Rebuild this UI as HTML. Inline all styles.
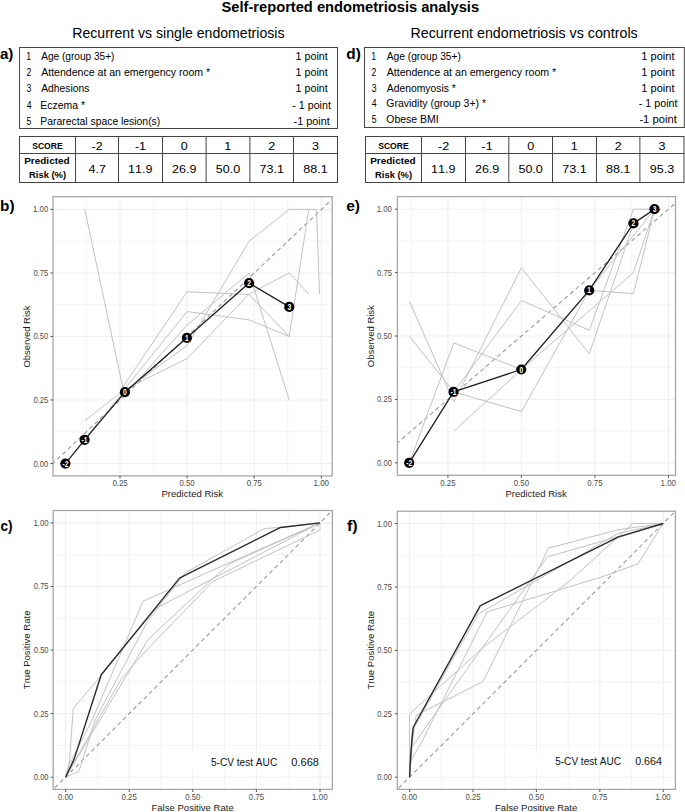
<!DOCTYPE html>
<html><head><meta charset="utf-8"><title>Self-reported endometriosis analysis</title>
<style>
html,body{margin:0;padding:0;background:#fff;}
body{width:685px;height:812px;overflow:hidden;}
svg{display:block;}
svg text{font-family:"Liberation Sans",sans-serif;font-kerning:none;}
</style></head><body>
<svg width="685" height="812" viewBox="0 0 685 812">
<rect width="685" height="812" fill="#fff"/>
<text x="221.58" y="11.7" font-size="15.41" font-weight="bold" fill="#000" textLength="257.52" lengthAdjust="spacingAndGlyphs">Self-reported endometriosis analysis</text>
<text x="72.24" y="37.7" font-size="14.24" fill="#000" textLength="212.27" lengthAdjust="spacingAndGlyphs">Recurrent vs single endometriosis</text>
<text x="410.53" y="37.7" font-size="14.24" fill="#000" textLength="227.18" lengthAdjust="spacingAndGlyphs">Recurrent endometriosis vs controls</text>
<text x="-0.14" y="58.5" font-size="14.2" font-weight="bold" fill="#000" textLength="13.5" lengthAdjust="spacingAndGlyphs">a)</text>
<text x="346.37" y="58.7" font-size="14.2" font-weight="bold" fill="#000" textLength="14.49" lengthAdjust="spacingAndGlyphs">d)</text>
<text x="0.09" y="210.8" font-size="15" font-weight="bold" fill="#000" textLength="14.47" lengthAdjust="spacingAndGlyphs">b)</text>
<text x="346.19" y="210.8" font-size="15" font-weight="bold" fill="#000" textLength="13.89" lengthAdjust="spacingAndGlyphs">e)</text>
<text x="0.47" y="530.5" font-size="15" font-weight="bold" fill="#000" textLength="12.11" lengthAdjust="spacingAndGlyphs">c)</text>
<text x="346.92" y="530.6" font-size="15" font-weight="bold" fill="#000" textLength="10.78" lengthAdjust="spacingAndGlyphs">f)</text>
<rect x="19.5" y="47.5" width="318" height="81" fill="none" stroke="#454545" stroke-width="1"/>
<rect x="364.5" y="47.5" width="319.8" height="80" fill="none" stroke="#454545" stroke-width="1"/>
<text x="26.24" y="59.8" font-size="10.2" fill="#000" textLength="4.82" lengthAdjust="spacingAndGlyphs">1</text>
<text x="41.18" y="59.8" font-size="10.2" fill="#000" textLength="73.25" lengthAdjust="spacingAndGlyphs">Age (group 35+)</text>
<text x="295.48" y="59.8" font-size="10.2" fill="#000" textLength="32.3" lengthAdjust="spacingAndGlyphs">1 point</text>
<text x="26.46" y="76.1" font-size="10.2" fill="#000" textLength="4.82" lengthAdjust="spacingAndGlyphs">2</text>
<text x="41.18" y="76.1" font-size="10.2" fill="#000" textLength="168.99" lengthAdjust="spacingAndGlyphs">Attendence at an emergency room *</text>
<text x="295.48" y="76.1" font-size="10.2" fill="#000" textLength="32.3" lengthAdjust="spacingAndGlyphs">1 point</text>
<text x="26.57" y="92.4" font-size="10.2" fill="#000" textLength="4.82" lengthAdjust="spacingAndGlyphs">3</text>
<text x="41.18" y="92.4" font-size="10.2" fill="#000" textLength="48.19" lengthAdjust="spacingAndGlyphs">Adhesions</text>
<text x="295.48" y="92.4" font-size="10.2" fill="#000" textLength="32.3" lengthAdjust="spacingAndGlyphs">1 point</text>
<text x="26.7" y="108.7" font-size="10.2" fill="#000" textLength="4.82" lengthAdjust="spacingAndGlyphs">4</text>
<text x="40.34" y="108.7" font-size="10.2" fill="#000" textLength="44.62" lengthAdjust="spacingAndGlyphs">Eczema *</text>
<text x="292.33" y="108.7" font-size="10.2" fill="#000" textLength="38.55" lengthAdjust="spacingAndGlyphs">- 1 point</text>
<text x="26.55" y="125" font-size="10.2" fill="#000" textLength="4.82" lengthAdjust="spacingAndGlyphs">5</text>
<text x="40.35" y="125" font-size="10.2" fill="#000" textLength="119.89" lengthAdjust="spacingAndGlyphs">Pararectal space lesion(s)</text>
<text x="293.52" y="125" font-size="10.2" fill="#000" textLength="36.26" lengthAdjust="spacingAndGlyphs">-1 point</text>
<text x="371.34" y="59.8" font-size="10.2" fill="#000" textLength="4.82" lengthAdjust="spacingAndGlyphs">1</text>
<text x="386.78" y="59.8" font-size="10.2" fill="#000" textLength="74.15" lengthAdjust="spacingAndGlyphs">Age (group 35+)</text>
<text x="641.36" y="59.8" font-size="10.2" fill="#000" textLength="33.12" lengthAdjust="spacingAndGlyphs">1 point</text>
<text x="371.56" y="75.65" font-size="10.2" fill="#000" textLength="4.82" lengthAdjust="spacingAndGlyphs">2</text>
<text x="386.78" y="75.65" font-size="10.2" fill="#000" textLength="169.39" lengthAdjust="spacingAndGlyphs">Attendence at an emergency room *</text>
<text x="641.36" y="75.65" font-size="10.2" fill="#000" textLength="33.12" lengthAdjust="spacingAndGlyphs">1 point</text>
<text x="371.67" y="91.5" font-size="10.2" fill="#000" textLength="4.82" lengthAdjust="spacingAndGlyphs">3</text>
<text x="386.78" y="91.5" font-size="10.2" fill="#000" textLength="68.98" lengthAdjust="spacingAndGlyphs">Adenomyosis *</text>
<text x="641.36" y="91.5" font-size="10.2" fill="#000" textLength="33.12" lengthAdjust="spacingAndGlyphs">1 point</text>
<text x="371.8" y="107.35" font-size="10.2" fill="#000" textLength="4.82" lengthAdjust="spacingAndGlyphs">4</text>
<text x="386.27" y="107.35" font-size="10.2" fill="#000" textLength="99.69" lengthAdjust="spacingAndGlyphs">Gravidity (group 3+) *</text>
<text x="638.82" y="107.35" font-size="10.2" fill="#000" textLength="38.76" lengthAdjust="spacingAndGlyphs">- 1 point</text>
<text x="371.65" y="123.2" font-size="10.2" fill="#000" textLength="4.82" lengthAdjust="spacingAndGlyphs">5</text>
<text x="386.3" y="123.2" font-size="10.2" fill="#000" textLength="52.36" lengthAdjust="spacingAndGlyphs">Obese BMI</text>
<text x="639.4" y="123.2" font-size="10.2" fill="#000" textLength="37.38" lengthAdjust="spacingAndGlyphs">-1 point</text>
<rect x="19.5" y="136.5" width="318" height="46" fill="none" stroke="#454545" stroke-width="1"/>
<line x1="19.5" y1="153.5" x2="337.5" y2="153.5" stroke="#454545" stroke-width="1"/>
<line x1="75.5" y1="136.5" x2="75.5" y2="182.5" stroke="#454545" stroke-width="1"/>
<line x1="118.5" y1="136.5" x2="118.5" y2="182.5" stroke="#454545" stroke-width="1"/>
<line x1="162.5" y1="136.5" x2="162.5" y2="182.5" stroke="#454545" stroke-width="1"/>
<line x1="206.1" y1="136.5" x2="206.1" y2="182.5" stroke="#454545" stroke-width="1"/>
<line x1="249.9" y1="136.5" x2="249.9" y2="182.5" stroke="#454545" stroke-width="1"/>
<line x1="293.5" y1="136.5" x2="293.5" y2="182.5" stroke="#454545" stroke-width="1"/>
<text x="32.15" y="148.9" font-size="9.45" font-weight="bold" fill="#000" textLength="30.58" lengthAdjust="spacingAndGlyphs">SCORE</text>
<text x="24.23" y="164.3" font-size="9.45" font-weight="bold" fill="#000" textLength="45.42" lengthAdjust="spacingAndGlyphs">Predicted</text>
<text x="29.07" y="178.4" font-size="9.45" font-weight="bold" fill="#000" textLength="36.99" lengthAdjust="spacingAndGlyphs">Risk (%)</text>
<text x="91.47" y="149.8" font-size="10.89" fill="#000" textLength="11.14" lengthAdjust="spacingAndGlyphs">-2</text>
<text x="88.46" y="172.8" font-size="10.89" fill="#000" textLength="17.42" lengthAdjust="spacingAndGlyphs">4.7</text>
<text x="134.96" y="149.8" font-size="10.89" fill="#000" textLength="11.14" lengthAdjust="spacingAndGlyphs">-1</text>
<text x="128.13" y="172.8" font-size="10.89" fill="#000" textLength="24.38" lengthAdjust="spacingAndGlyphs">11.9</text>
<text x="180.82" y="149.8" font-size="10.89" fill="#000" textLength="6.97" lengthAdjust="spacingAndGlyphs">0</text>
<text x="172.09" y="172.8" font-size="10.89" fill="#000" textLength="24.38" lengthAdjust="spacingAndGlyphs">26.9</text>
<text x="224.35" y="149.8" font-size="10.89" fill="#000" textLength="6.97" lengthAdjust="spacingAndGlyphs">1</text>
<text x="215.8" y="172.8" font-size="10.89" fill="#000" textLength="24.38" lengthAdjust="spacingAndGlyphs">50.0</text>
<text x="268.22" y="149.8" font-size="10.89" fill="#000" textLength="6.97" lengthAdjust="spacingAndGlyphs">2</text>
<text x="259.49" y="172.8" font-size="10.89" fill="#000" textLength="24.38" lengthAdjust="spacingAndGlyphs">73.1</text>
<text x="312.05" y="149.8" font-size="10.89" fill="#000" textLength="6.97" lengthAdjust="spacingAndGlyphs">3</text>
<text x="303.34" y="172.8" font-size="10.89" fill="#000" textLength="24.38" lengthAdjust="spacingAndGlyphs">88.1</text>
<rect x="365.5" y="136.5" width="318.5" height="46" fill="none" stroke="#454545" stroke-width="1"/>
<line x1="365.5" y1="153.5" x2="684" y2="153.5" stroke="#454545" stroke-width="1"/>
<line x1="421.5" y1="136.5" x2="421.5" y2="182.5" stroke="#454545" stroke-width="1"/>
<line x1="465.5" y1="136.5" x2="465.5" y2="182.5" stroke="#454545" stroke-width="1"/>
<line x1="508.8" y1="136.5" x2="508.8" y2="182.5" stroke="#454545" stroke-width="1"/>
<line x1="552.5" y1="136.5" x2="552.5" y2="182.5" stroke="#454545" stroke-width="1"/>
<line x1="596.5" y1="136.5" x2="596.5" y2="182.5" stroke="#454545" stroke-width="1"/>
<line x1="639.9" y1="136.5" x2="639.9" y2="182.5" stroke="#454545" stroke-width="1"/>
<text x="378.15" y="148.9" font-size="9.45" font-weight="bold" fill="#000" textLength="30.58" lengthAdjust="spacingAndGlyphs">SCORE</text>
<text x="370.23" y="164.3" font-size="9.45" font-weight="bold" fill="#000" textLength="45.42" lengthAdjust="spacingAndGlyphs">Predicted</text>
<text x="375.07" y="178.4" font-size="9.45" font-weight="bold" fill="#000" textLength="36.99" lengthAdjust="spacingAndGlyphs">Risk (%)</text>
<text x="437.97" y="149.8" font-size="10.89" fill="#000" textLength="11.14" lengthAdjust="spacingAndGlyphs">-2</text>
<text x="431.13" y="172.8" font-size="10.89" fill="#000" textLength="24.38" lengthAdjust="spacingAndGlyphs">11.9</text>
<text x="481.61" y="149.8" font-size="10.89" fill="#000" textLength="11.14" lengthAdjust="spacingAndGlyphs">-1</text>
<text x="474.94" y="172.8" font-size="10.89" fill="#000" textLength="24.38" lengthAdjust="spacingAndGlyphs">26.9</text>
<text x="527.17" y="149.8" font-size="10.89" fill="#000" textLength="6.97" lengthAdjust="spacingAndGlyphs">0</text>
<text x="518.45" y="172.8" font-size="10.89" fill="#000" textLength="24.38" lengthAdjust="spacingAndGlyphs">50.0</text>
<text x="570.85" y="149.8" font-size="10.89" fill="#000" textLength="6.97" lengthAdjust="spacingAndGlyphs">1</text>
<text x="562.29" y="172.8" font-size="10.89" fill="#000" textLength="24.38" lengthAdjust="spacingAndGlyphs">73.1</text>
<text x="614.72" y="149.8" font-size="10.89" fill="#000" textLength="6.97" lengthAdjust="spacingAndGlyphs">2</text>
<text x="606.04" y="172.8" font-size="10.89" fill="#000" textLength="24.38" lengthAdjust="spacingAndGlyphs">88.1</text>
<text x="658.5" y="149.8" font-size="10.89" fill="#000" textLength="6.97" lengthAdjust="spacingAndGlyphs">3</text>
<text x="649.74" y="172.8" font-size="10.89" fill="#000" textLength="24.38" lengthAdjust="spacingAndGlyphs">95.3</text>
<line x1="86.44" y1="196.7" x2="86.44" y2="475.9" stroke="#efefef" stroke-width="0.7"/>
<line x1="153.57" y1="196.7" x2="153.57" y2="475.9" stroke="#efefef" stroke-width="0.7"/>
<line x1="220.7" y1="196.7" x2="220.7" y2="475.9" stroke="#efefef" stroke-width="0.7"/>
<line x1="287.83" y1="196.7" x2="287.83" y2="475.9" stroke="#efefef" stroke-width="0.7"/>
<line x1="53" y1="431.74" x2="332.2" y2="431.74" stroke="#efefef" stroke-width="0.7"/>
<line x1="53" y1="368.21" x2="332.2" y2="368.21" stroke="#efefef" stroke-width="0.7"/>
<line x1="53" y1="304.69" x2="332.2" y2="304.69" stroke="#efefef" stroke-width="0.7"/>
<line x1="53" y1="241.16" x2="332.2" y2="241.16" stroke="#efefef" stroke-width="0.7"/>
<line x1="120" y1="196.7" x2="120" y2="475.9" stroke="#efefef" stroke-width="1.1"/>
<line x1="187.13" y1="196.7" x2="187.13" y2="475.9" stroke="#efefef" stroke-width="1.1"/>
<line x1="254.27" y1="196.7" x2="254.27" y2="475.9" stroke="#efefef" stroke-width="1.1"/>
<line x1="321.4" y1="196.7" x2="321.4" y2="475.9" stroke="#efefef" stroke-width="1.1"/>
<line x1="53" y1="463.5" x2="332.2" y2="463.5" stroke="#efefef" stroke-width="1.1"/>
<line x1="53" y1="399.98" x2="332.2" y2="399.98" stroke="#efefef" stroke-width="1.1"/>
<line x1="53" y1="336.45" x2="332.2" y2="336.45" stroke="#efefef" stroke-width="1.1"/>
<line x1="53" y1="272.93" x2="332.2" y2="272.93" stroke="#efefef" stroke-width="1.1"/>
<line x1="53" y1="209.4" x2="332.2" y2="209.4" stroke="#efefef" stroke-width="1.1"/>
<line x1="53" y1="463.37" x2="331.34" y2="200" stroke="#999999" stroke-width="1.1" stroke-dasharray="4.2,3.2" stroke-dashoffset="1.71"/>
<polyline points="84.83,209.4 122.69,387.27 187.13,291.73 249.17,294.52 289.18,336.45" fill="none" stroke="#c2c2c2" stroke-width="1" stroke-linejoin="round"/>
<polyline points="84.83,420.81 124.03,389.81 187.13,311.55 249.17,319.93 289.18,336.45 308.78,209.4" fill="none" stroke="#c2c2c2" stroke-width="1" stroke-linejoin="round"/>
<polyline points="86.44,436.82 124.03,391.08 187.13,345.6 249.17,241.16 289.18,209.4 316.57,209.4 319.52,294.02" fill="none" stroke="#c2c2c2" stroke-width="1" stroke-linejoin="round"/>
<polyline points="124.84,394.89 187.13,325.02 249.17,272.93 289.18,399.98" fill="none" stroke="#c2c2c2" stroke-width="1" stroke-linejoin="round"/>
<polyline points="124.03,389.81 187.13,358.56 249.17,294.02 289.18,272.93 308.78,294.02" fill="none" stroke="#c2c2c2" stroke-width="1" stroke-linejoin="round"/>
<polyline points="65.4,463.6 84.6,439.8 124.9,392.15 186.9,337.8 249.1,283.05 289.3,306.9" fill="none" stroke="#1e1e1e" stroke-width="1.3" stroke-linejoin="round"/>
<circle cx="65.4" cy="463.6" r="5.1" fill="#000"/>
<text x="62.42" y="466.6" font-size="8.38" font-weight="bold" fill="#fff" textLength="5.96" lengthAdjust="spacingAndGlyphs">-2</text>
<circle cx="84.6" cy="439.8" r="5.1" fill="#000"/>
<text x="81.58" y="442.8" font-size="8.38" font-weight="bold" fill="#fff" textLength="5.96" lengthAdjust="spacingAndGlyphs">-1</text>
<circle cx="124.9" cy="392.15" r="5.1" fill="#000"/>
<text x="123.04" y="395.15" font-size="8.38" font-weight="bold" fill="#fff" textLength="3.73" lengthAdjust="spacingAndGlyphs">0</text>
<circle cx="186.9" cy="337.8" r="5.1" fill="#000"/>
<text x="184.92" y="340.8" font-size="8.38" font-weight="bold" fill="#fff" textLength="3.73" lengthAdjust="spacingAndGlyphs">1</text>
<circle cx="249.1" cy="283.05" r="5.1" fill="#000"/>
<text x="247.25" y="286.05" font-size="8.38" font-weight="bold" fill="#fff" textLength="3.73" lengthAdjust="spacingAndGlyphs">2</text>
<circle cx="289.3" cy="306.9" r="5.1" fill="#000"/>
<text x="287.48" y="309.9" font-size="8.38" font-weight="bold" fill="#fff" textLength="3.73" lengthAdjust="spacingAndGlyphs">3</text>
<rect x="53" y="196.7" width="279.2" height="279.2" fill="none" stroke="#a6a6a6" stroke-width="1.3"/>
<line x1="120" y1="475.9" x2="120" y2="478.5" stroke="#555" stroke-width="1"/>
<text x="112.4" y="486.1" font-size="8.38" fill="#4d4d4d" textLength="15.23" lengthAdjust="spacingAndGlyphs">0.25</text>
<line x1="187.13" y1="475.9" x2="187.13" y2="478.5" stroke="#555" stroke-width="1"/>
<text x="179.53" y="486.1" font-size="8.38" fill="#4d4d4d" textLength="15.21" lengthAdjust="spacingAndGlyphs">0.50</text>
<line x1="254.27" y1="475.9" x2="254.27" y2="478.5" stroke="#555" stroke-width="1"/>
<text x="246.66" y="486.1" font-size="8.38" fill="#4d4d4d" textLength="15.23" lengthAdjust="spacingAndGlyphs">0.75</text>
<line x1="321.4" y1="475.9" x2="321.4" y2="478.5" stroke="#555" stroke-width="1"/>
<text x="313.49" y="486.1" font-size="8.38" fill="#4d4d4d" textLength="15.52" lengthAdjust="spacingAndGlyphs">1.00</text>
<line x1="50.4" y1="463.5" x2="53" y2="463.5" stroke="#555" stroke-width="1"/>
<text x="33.4" y="466.5" font-size="8.38" fill="#4d4d4d" textLength="14.79" lengthAdjust="spacingAndGlyphs">0.00</text>
<line x1="50.4" y1="399.98" x2="53" y2="399.98" stroke="#555" stroke-width="1"/>
<text x="33.4" y="402.98" font-size="8.38" fill="#4d4d4d" textLength="14.82" lengthAdjust="spacingAndGlyphs">0.25</text>
<line x1="50.4" y1="336.45" x2="53" y2="336.45" stroke="#555" stroke-width="1"/>
<text x="33.4" y="339.45" font-size="8.38" fill="#4d4d4d" textLength="14.79" lengthAdjust="spacingAndGlyphs">0.50</text>
<line x1="50.4" y1="272.93" x2="53" y2="272.93" stroke="#555" stroke-width="1"/>
<text x="33.4" y="275.93" font-size="8.38" fill="#4d4d4d" textLength="14.82" lengthAdjust="spacingAndGlyphs">0.75</text>
<line x1="50.4" y1="209.4" x2="53" y2="209.4" stroke="#555" stroke-width="1"/>
<text x="33.11" y="212.4" font-size="8.38" fill="#4d4d4d" textLength="15.09" lengthAdjust="spacingAndGlyphs">1.00</text>
<text x="161.47" y="497.2" font-size="9.88" fill="#1a1a1a" textLength="61.47" lengthAdjust="spacingAndGlyphs">Predicted Risk</text>
<text transform="translate(29.8,336.3) rotate(-90)" x="-31.25" y="0" font-size="9.88" fill="#1a1a1a" textLength="62.03" lengthAdjust="spacingAndGlyphs">Observed Risk</text>
<line x1="411.15" y1="196.6" x2="411.15" y2="475.3" stroke="#efefef" stroke-width="0.7"/>
<line x1="484.65" y1="196.6" x2="484.65" y2="475.3" stroke="#efefef" stroke-width="0.7"/>
<line x1="558.15" y1="196.6" x2="558.15" y2="475.3" stroke="#efefef" stroke-width="0.7"/>
<line x1="631.65" y1="196.6" x2="631.65" y2="475.3" stroke="#efefef" stroke-width="0.7"/>
<line x1="397.4" y1="431.14" x2="675.5" y2="431.14" stroke="#efefef" stroke-width="0.7"/>
<line x1="397.4" y1="367.73" x2="675.5" y2="367.73" stroke="#efefef" stroke-width="0.7"/>
<line x1="397.4" y1="304.32" x2="675.5" y2="304.32" stroke="#efefef" stroke-width="0.7"/>
<line x1="397.4" y1="240.91" x2="675.5" y2="240.91" stroke="#efefef" stroke-width="0.7"/>
<line x1="447.9" y1="196.6" x2="447.9" y2="475.3" stroke="#efefef" stroke-width="1.1"/>
<line x1="521.4" y1="196.6" x2="521.4" y2="475.3" stroke="#efefef" stroke-width="1.1"/>
<line x1="594.9" y1="196.6" x2="594.9" y2="475.3" stroke="#efefef" stroke-width="1.1"/>
<line x1="668.4" y1="196.6" x2="668.4" y2="475.3" stroke="#efefef" stroke-width="1.1"/>
<line x1="397.4" y1="462.85" x2="675.5" y2="462.85" stroke="#efefef" stroke-width="1.1"/>
<line x1="397.4" y1="399.44" x2="675.5" y2="399.44" stroke="#efefef" stroke-width="1.1"/>
<line x1="397.4" y1="336.03" x2="675.5" y2="336.03" stroke="#efefef" stroke-width="1.1"/>
<line x1="397.4" y1="272.61" x2="675.5" y2="272.61" stroke="#efefef" stroke-width="1.1"/>
<line x1="397.4" y1="209.2" x2="675.5" y2="209.2" stroke="#efefef" stroke-width="1.1"/>
<line x1="397.3" y1="443.09" x2="675.75" y2="202.86" stroke="#999999" stroke-width="1.1" stroke-dasharray="4.2,3.2" stroke-dashoffset="1.14"/>
<polyline points="409.39,301.27 453.78,401.97 521.4,267.79 589.31,353.78 633.41,223.91 654.58,209.2" fill="none" stroke="#c2c2c2" stroke-width="1" stroke-linejoin="round"/>
<polyline points="409.39,336.28 453.78,391.83 521.4,300.51 589.31,330.19 633.41,209.2 661.05,209.2" fill="none" stroke="#c2c2c2" stroke-width="1" stroke-linejoin="round"/>
<polyline points="409.39,462.85 453.78,342.87 521.4,369.51 589.31,290.37 633.41,293.67 654.58,209.2" fill="none" stroke="#c2c2c2" stroke-width="1" stroke-linejoin="round"/>
<polyline points="453.78,431.4 521.4,369.51 633.41,272.61 654.58,209.2" fill="none" stroke="#c2c2c2" stroke-width="1" stroke-linejoin="round"/>
<polyline points="453.78,391.83 521.4,411.61 589.31,290.37 654.58,209.2" fill="none" stroke="#c2c2c2" stroke-width="1" stroke-linejoin="round"/>
<polyline points="409.2,462.85 453.55,391.9 521.3,369.5 589.2,290.4 633.45,223.4 654.5,209.2" fill="none" stroke="#1e1e1e" stroke-width="1.3" stroke-linejoin="round"/>
<circle cx="409.2" cy="462.85" r="5.1" fill="#000"/>
<text x="406.22" y="465.85" font-size="8.38" font-weight="bold" fill="#fff" textLength="5.96" lengthAdjust="spacingAndGlyphs">-2</text>
<circle cx="453.55" cy="391.9" r="5.1" fill="#000"/>
<text x="450.53" y="394.9" font-size="8.38" font-weight="bold" fill="#fff" textLength="5.96" lengthAdjust="spacingAndGlyphs">-1</text>
<circle cx="521.3" cy="369.5" r="5.1" fill="#000"/>
<text x="519.44" y="372.5" font-size="8.38" font-weight="bold" fill="#fff" textLength="3.73" lengthAdjust="spacingAndGlyphs">0</text>
<circle cx="589.2" cy="290.4" r="5.1" fill="#000"/>
<text x="587.22" y="293.4" font-size="8.38" font-weight="bold" fill="#fff" textLength="3.73" lengthAdjust="spacingAndGlyphs">1</text>
<circle cx="633.45" cy="223.4" r="5.1" fill="#000"/>
<text x="631.6" y="226.4" font-size="8.38" font-weight="bold" fill="#fff" textLength="3.73" lengthAdjust="spacingAndGlyphs">2</text>
<circle cx="654.5" cy="209.2" r="5.1" fill="#000"/>
<text x="652.68" y="212.2" font-size="8.38" font-weight="bold" fill="#fff" textLength="3.73" lengthAdjust="spacingAndGlyphs">3</text>
<rect x="397.4" y="196.6" width="278.1" height="278.7" fill="none" stroke="#a6a6a6" stroke-width="1.3"/>
<line x1="447.9" y1="475.3" x2="447.9" y2="477.9" stroke="#555" stroke-width="1"/>
<text x="440.29" y="485.6" font-size="8.38" fill="#4d4d4d" textLength="15.23" lengthAdjust="spacingAndGlyphs">0.25</text>
<line x1="521.4" y1="475.3" x2="521.4" y2="477.9" stroke="#555" stroke-width="1"/>
<text x="513.79" y="485.6" font-size="8.38" fill="#4d4d4d" textLength="15.21" lengthAdjust="spacingAndGlyphs">0.50</text>
<line x1="594.9" y1="475.3" x2="594.9" y2="477.9" stroke="#555" stroke-width="1"/>
<text x="587.29" y="485.6" font-size="8.38" fill="#4d4d4d" textLength="15.23" lengthAdjust="spacingAndGlyphs">0.75</text>
<line x1="668.4" y1="475.3" x2="668.4" y2="477.9" stroke="#555" stroke-width="1"/>
<text x="660.49" y="485.6" font-size="8.38" fill="#4d4d4d" textLength="15.52" lengthAdjust="spacingAndGlyphs">1.00</text>
<line x1="394.8" y1="462.85" x2="397.4" y2="462.85" stroke="#555" stroke-width="1"/>
<text x="377.1" y="465.85" font-size="8.38" fill="#4d4d4d" textLength="14.79" lengthAdjust="spacingAndGlyphs">0.00</text>
<line x1="394.8" y1="399.44" x2="397.4" y2="399.44" stroke="#555" stroke-width="1"/>
<text x="377.1" y="402.44" font-size="8.38" fill="#4d4d4d" textLength="14.82" lengthAdjust="spacingAndGlyphs">0.25</text>
<line x1="394.8" y1="336.03" x2="397.4" y2="336.03" stroke="#555" stroke-width="1"/>
<text x="377.1" y="339.03" font-size="8.38" fill="#4d4d4d" textLength="14.79" lengthAdjust="spacingAndGlyphs">0.50</text>
<line x1="394.8" y1="272.61" x2="397.4" y2="272.61" stroke="#555" stroke-width="1"/>
<text x="377.1" y="275.61" font-size="8.38" fill="#4d4d4d" textLength="14.82" lengthAdjust="spacingAndGlyphs">0.75</text>
<line x1="394.8" y1="209.2" x2="397.4" y2="209.2" stroke="#555" stroke-width="1"/>
<text x="376.81" y="212.2" font-size="8.38" fill="#4d4d4d" textLength="15.09" lengthAdjust="spacingAndGlyphs">1.00</text>
<text x="505.42" y="496.8" font-size="9.88" fill="#1a1a1a" textLength="61.27" lengthAdjust="spacingAndGlyphs">Predicted Risk</text>
<text transform="translate(374,335.95) rotate(-90)" x="-31.25" y="0" font-size="9.88" fill="#1a1a1a" textLength="62.03" lengthAdjust="spacingAndGlyphs">Observed Risk</text>
<line x1="97.4" y1="510.5" x2="97.4" y2="789.4" stroke="#efefef" stroke-width="0.7"/>
<line x1="161" y1="510.5" x2="161" y2="789.4" stroke="#efefef" stroke-width="0.7"/>
<line x1="224.6" y1="510.5" x2="224.6" y2="789.4" stroke="#efefef" stroke-width="0.7"/>
<line x1="288.2" y1="510.5" x2="288.2" y2="789.4" stroke="#efefef" stroke-width="0.7"/>
<line x1="53.2" y1="745.41" x2="332.4" y2="745.41" stroke="#efefef" stroke-width="0.7"/>
<line x1="53.2" y1="681.84" x2="332.4" y2="681.84" stroke="#efefef" stroke-width="0.7"/>
<line x1="53.2" y1="618.26" x2="332.4" y2="618.26" stroke="#efefef" stroke-width="0.7"/>
<line x1="53.2" y1="554.69" x2="332.4" y2="554.69" stroke="#efefef" stroke-width="0.7"/>
<line x1="65.6" y1="510.5" x2="65.6" y2="789.4" stroke="#efefef" stroke-width="1.1"/>
<line x1="129.2" y1="510.5" x2="129.2" y2="789.4" stroke="#efefef" stroke-width="1.1"/>
<line x1="192.8" y1="510.5" x2="192.8" y2="789.4" stroke="#efefef" stroke-width="1.1"/>
<line x1="256.4" y1="510.5" x2="256.4" y2="789.4" stroke="#efefef" stroke-width="1.1"/>
<line x1="320" y1="510.5" x2="320" y2="789.4" stroke="#efefef" stroke-width="1.1"/>
<line x1="53.2" y1="777.2" x2="332.4" y2="777.2" stroke="#efefef" stroke-width="1.1"/>
<line x1="53.2" y1="713.62" x2="332.4" y2="713.62" stroke="#efefef" stroke-width="1.1"/>
<line x1="53.2" y1="650.05" x2="332.4" y2="650.05" stroke="#efefef" stroke-width="1.1"/>
<line x1="53.2" y1="586.48" x2="332.4" y2="586.48" stroke="#efefef" stroke-width="1.1"/>
<line x1="53.2" y1="522.9" x2="332.4" y2="522.9" stroke="#efefef" stroke-width="1.1"/>
<line x1="53.19" y1="789.61" x2="332.72" y2="510.19" stroke="#999999" stroke-width="1.1" stroke-dasharray="4.2,3.2" stroke-dashoffset="5.06"/>
<polyline points="65.6,777.2 69.42,762.7 73.23,708.54 99.18,677.77 155.91,608.34 320,522.9" fill="none" stroke="#c2c2c2" stroke-width="1" stroke-linejoin="round"/>
<polyline points="65.6,777.2 69.42,764.49 92.06,719.98 143.19,601.22 240.12,557.99 320,522.9" fill="none" stroke="#c2c2c2" stroke-width="1" stroke-linejoin="round"/>
<polyline points="65.6,777.2 79.08,771.1 95.11,719.98 148.03,620.3 185.42,572.74 264.54,528.49 280.57,527.48 320,522.9" fill="none" stroke="#c2c2c2" stroke-width="1" stroke-linejoin="round"/>
<polyline points="65.6,777.2 148.03,639.62 211.88,579.61 230.2,563.59 320,522.9" fill="none" stroke="#c2c2c2" stroke-width="1" stroke-linejoin="round"/>
<polyline points="65.6,777.2 120.55,680.06 141.92,655.14 212.9,581.39 320,530.02 320,522.9" fill="none" stroke="#c2c2c2" stroke-width="1" stroke-linejoin="round"/>
<polyline points="65.6,777.2 74.25,758.89 101.22,674.72 179.83,577.83 280.57,527.48 320,522.9" fill="none" stroke="#2a2a2a" stroke-width="1.4" stroke-linejoin="round"/>
<rect x="191.5" y="753.8" width="131" height="16.2" fill="#fff"/>
<text x="210.9" y="766" font-size="11.05" fill="#111" textLength="66.29" lengthAdjust="spacingAndGlyphs">5-CV test AUC</text>
<text x="291.37" y="765.7" font-size="10.47" fill="#111" textLength="27.61" lengthAdjust="spacingAndGlyphs">0.668</text>
<rect x="53.2" y="510.5" width="279.2" height="278.9" fill="none" stroke="#a6a6a6" stroke-width="1.3"/>
<line x1="65.6" y1="789.4" x2="65.6" y2="792" stroke="#555" stroke-width="1"/>
<text x="57.99" y="799.8" font-size="8.38" fill="#4d4d4d" textLength="15.21" lengthAdjust="spacingAndGlyphs">0.00</text>
<line x1="129.2" y1="789.4" x2="129.2" y2="792" stroke="#555" stroke-width="1"/>
<text x="121.59" y="799.8" font-size="8.38" fill="#4d4d4d" textLength="15.23" lengthAdjust="spacingAndGlyphs">0.25</text>
<line x1="192.8" y1="789.4" x2="192.8" y2="792" stroke="#555" stroke-width="1"/>
<text x="185.19" y="799.8" font-size="8.38" fill="#4d4d4d" textLength="15.21" lengthAdjust="spacingAndGlyphs">0.50</text>
<line x1="256.4" y1="789.4" x2="256.4" y2="792" stroke="#555" stroke-width="1"/>
<text x="248.79" y="799.8" font-size="8.38" fill="#4d4d4d" textLength="15.23" lengthAdjust="spacingAndGlyphs">0.75</text>
<line x1="320" y1="789.4" x2="320" y2="792" stroke="#555" stroke-width="1"/>
<text x="312.09" y="799.8" font-size="8.38" fill="#4d4d4d" textLength="15.52" lengthAdjust="spacingAndGlyphs">1.00</text>
<line x1="50.6" y1="777.2" x2="53.2" y2="777.2" stroke="#555" stroke-width="1"/>
<text x="33.8" y="780.2" font-size="8.38" fill="#4d4d4d" textLength="14.79" lengthAdjust="spacingAndGlyphs">0.00</text>
<line x1="50.6" y1="713.62" x2="53.2" y2="713.62" stroke="#555" stroke-width="1"/>
<text x="33.8" y="716.62" font-size="8.38" fill="#4d4d4d" textLength="14.82" lengthAdjust="spacingAndGlyphs">0.25</text>
<line x1="50.6" y1="650.05" x2="53.2" y2="650.05" stroke="#555" stroke-width="1"/>
<text x="33.8" y="653.05" font-size="8.38" fill="#4d4d4d" textLength="14.79" lengthAdjust="spacingAndGlyphs">0.50</text>
<line x1="50.6" y1="586.48" x2="53.2" y2="586.48" stroke="#555" stroke-width="1"/>
<text x="33.8" y="589.48" font-size="8.38" fill="#4d4d4d" textLength="14.82" lengthAdjust="spacingAndGlyphs">0.75</text>
<line x1="50.6" y1="522.9" x2="53.2" y2="522.9" stroke="#555" stroke-width="1"/>
<text x="33.51" y="525.9" font-size="8.38" fill="#4d4d4d" textLength="15.09" lengthAdjust="spacingAndGlyphs">1.00</text>
<text x="151.47" y="810.7" font-size="9.88" fill="#1a1a1a" textLength="82.31" lengthAdjust="spacingAndGlyphs">False Positive Rate</text>
<text transform="translate(29.9,649.95) rotate(-90)" x="-39.21" y="0" font-size="9.88" fill="#1a1a1a" textLength="78.64" lengthAdjust="spacingAndGlyphs">True Positive Rate</text>
<line x1="441.3" y1="511.2" x2="441.3" y2="789.4" stroke="#efefef" stroke-width="0.7"/>
<line x1="504.7" y1="511.2" x2="504.7" y2="789.4" stroke="#efefef" stroke-width="0.7"/>
<line x1="568.1" y1="511.2" x2="568.1" y2="789.4" stroke="#efefef" stroke-width="0.7"/>
<line x1="631.5" y1="511.2" x2="631.5" y2="789.4" stroke="#efefef" stroke-width="0.7"/>
<line x1="397.3" y1="745.49" x2="675.4" y2="745.49" stroke="#efefef" stroke-width="0.7"/>
<line x1="397.3" y1="682.06" x2="675.4" y2="682.06" stroke="#efefef" stroke-width="0.7"/>
<line x1="397.3" y1="618.64" x2="675.4" y2="618.64" stroke="#efefef" stroke-width="0.7"/>
<line x1="397.3" y1="555.21" x2="675.4" y2="555.21" stroke="#efefef" stroke-width="0.7"/>
<line x1="409.6" y1="511.2" x2="409.6" y2="789.4" stroke="#efefef" stroke-width="1.1"/>
<line x1="473" y1="511.2" x2="473" y2="789.4" stroke="#efefef" stroke-width="1.1"/>
<line x1="536.4" y1="511.2" x2="536.4" y2="789.4" stroke="#efefef" stroke-width="1.1"/>
<line x1="599.8" y1="511.2" x2="599.8" y2="789.4" stroke="#efefef" stroke-width="1.1"/>
<line x1="663.2" y1="511.2" x2="663.2" y2="789.4" stroke="#efefef" stroke-width="1.1"/>
<line x1="397.3" y1="777.2" x2="675.4" y2="777.2" stroke="#efefef" stroke-width="1.1"/>
<line x1="397.3" y1="713.78" x2="675.4" y2="713.78" stroke="#efefef" stroke-width="1.1"/>
<line x1="397.3" y1="650.35" x2="675.4" y2="650.35" stroke="#efefef" stroke-width="1.1"/>
<line x1="397.3" y1="586.93" x2="675.4" y2="586.93" stroke="#efefef" stroke-width="1.1"/>
<line x1="397.3" y1="523.5" x2="675.4" y2="523.5" stroke="#efefef" stroke-width="1.1"/>
<line x1="397.3" y1="789.5" x2="675.12" y2="511.58" stroke="#999999" stroke-width="1.1" stroke-dasharray="4.2,3.2" stroke-dashoffset="5.46"/>
<polyline points="409.6,777.2 410.87,751.83 416.19,715.3 483.14,681.56 548.57,548.11 618.82,529.59 663.2,523.5" fill="none" stroke="#c2c2c2" stroke-width="1" stroke-linejoin="round"/>
<polyline points="409.6,777.2 409.6,763.25 422.79,739.91 487.2,611.79 599.8,577.54 637.84,564.09 663.2,523.5" fill="none" stroke="#c2c2c2" stroke-width="1" stroke-linejoin="round"/>
<polyline points="409.6,777.2 409.6,714.03 483.14,647.56 569.62,581.09 632.77,523.5 663.2,523.5" fill="none" stroke="#c2c2c2" stroke-width="1" stroke-linejoin="round"/>
<polyline points="409.6,777.2 412.14,731.53 440.03,681.56 478.58,613.82 617.55,533.65 663.2,523.5" fill="none" stroke="#c2c2c2" stroke-width="1" stroke-linejoin="round"/>
<polyline points="409.6,777.2 412.14,746.76 444.85,700.08 547.3,556.99 663.2,523.5" fill="none" stroke="#c2c2c2" stroke-width="1" stroke-linejoin="round"/>
<polyline points="409.6,777.2 410.11,765.02 411.38,747.01 413.15,727.47 480.35,605.7 618.06,537.2 663.2,523.5" fill="none" stroke="#2a2a2a" stroke-width="1.4" stroke-linejoin="round"/>
<rect x="535.5" y="753.8" width="130" height="16.2" fill="#fff"/>
<text x="555.2" y="765.3" font-size="11.05" fill="#111" textLength="65.88" lengthAdjust="spacingAndGlyphs">5-CV test AUC</text>
<text x="635.18" y="765.3" font-size="10.47" fill="#111" textLength="26.73" lengthAdjust="spacingAndGlyphs">0.664</text>
<rect x="397.3" y="511.2" width="278.1" height="278.2" fill="none" stroke="#a6a6a6" stroke-width="1.3"/>
<line x1="409.6" y1="789.4" x2="409.6" y2="792" stroke="#555" stroke-width="1"/>
<text x="401.99" y="799.8" font-size="8.38" fill="#4d4d4d" textLength="15.21" lengthAdjust="spacingAndGlyphs">0.00</text>
<line x1="473" y1="789.4" x2="473" y2="792" stroke="#555" stroke-width="1"/>
<text x="465.39" y="799.8" font-size="8.38" fill="#4d4d4d" textLength="15.23" lengthAdjust="spacingAndGlyphs">0.25</text>
<line x1="536.4" y1="789.4" x2="536.4" y2="792" stroke="#555" stroke-width="1"/>
<text x="528.79" y="799.8" font-size="8.38" fill="#4d4d4d" textLength="15.21" lengthAdjust="spacingAndGlyphs">0.50</text>
<line x1="599.8" y1="789.4" x2="599.8" y2="792" stroke="#555" stroke-width="1"/>
<text x="592.19" y="799.8" font-size="8.38" fill="#4d4d4d" textLength="15.23" lengthAdjust="spacingAndGlyphs">0.75</text>
<line x1="663.2" y1="789.4" x2="663.2" y2="792" stroke="#555" stroke-width="1"/>
<text x="655.29" y="799.8" font-size="8.38" fill="#4d4d4d" textLength="15.52" lengthAdjust="spacingAndGlyphs">1.00</text>
<line x1="394.7" y1="777.2" x2="397.3" y2="777.2" stroke="#555" stroke-width="1"/>
<text x="377.2" y="780.2" font-size="8.38" fill="#4d4d4d" textLength="14.79" lengthAdjust="spacingAndGlyphs">0.00</text>
<line x1="394.7" y1="713.78" x2="397.3" y2="713.78" stroke="#555" stroke-width="1"/>
<text x="377.2" y="716.78" font-size="8.38" fill="#4d4d4d" textLength="14.82" lengthAdjust="spacingAndGlyphs">0.25</text>
<line x1="394.7" y1="650.35" x2="397.3" y2="650.35" stroke="#555" stroke-width="1"/>
<text x="377.2" y="653.35" font-size="8.38" fill="#4d4d4d" textLength="14.79" lengthAdjust="spacingAndGlyphs">0.50</text>
<line x1="394.7" y1="586.93" x2="397.3" y2="586.93" stroke="#555" stroke-width="1"/>
<text x="377.2" y="589.93" font-size="8.38" fill="#4d4d4d" textLength="14.82" lengthAdjust="spacingAndGlyphs">0.75</text>
<line x1="394.7" y1="523.5" x2="397.3" y2="523.5" stroke="#555" stroke-width="1"/>
<text x="376.91" y="526.5" font-size="8.38" fill="#4d4d4d" textLength="15.09" lengthAdjust="spacingAndGlyphs">1.00</text>
<text x="495.02" y="810.7" font-size="9.88" fill="#1a1a1a" textLength="82.31" lengthAdjust="spacingAndGlyphs">False Positive Rate</text>
<text transform="translate(373.9,650.3) rotate(-90)" x="-39.21" y="0" font-size="9.88" fill="#1a1a1a" textLength="78.64" lengthAdjust="spacingAndGlyphs">True Positive Rate</text>
</svg>
</body></html>
